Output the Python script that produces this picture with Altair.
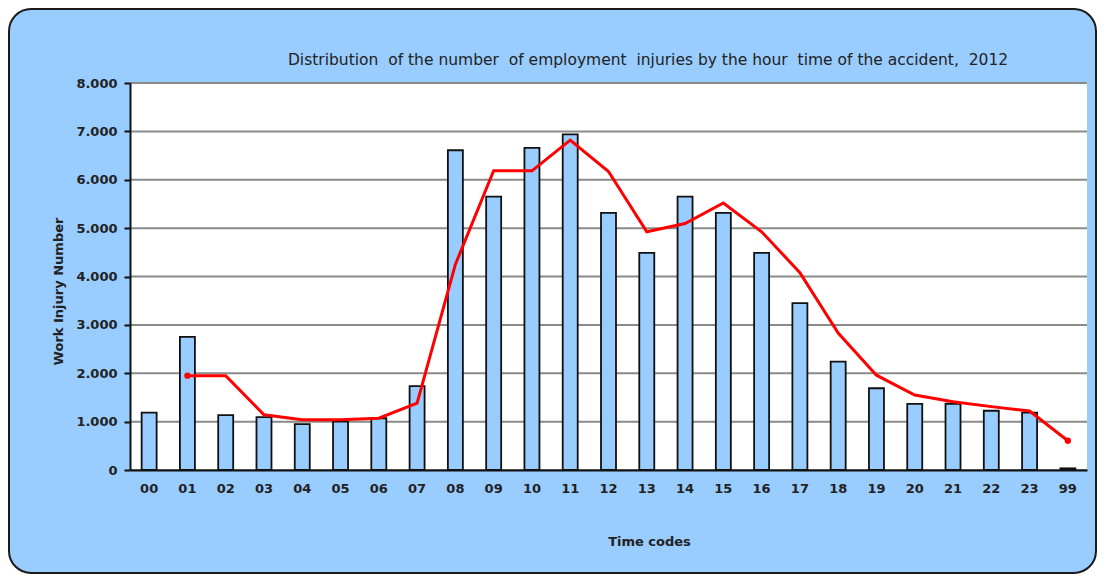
import altair as alt
import pandas as pd

codes = ["00", "01", "02", "03", "04", "05", "06", "07", "08", "09", "10", "11",
         "12", "13", "14", "15", "16", "17", "18", "19", "20", "21", "22", "23", "99"]
injuries = [1185, 2750, 1135, 1095, 950, 1000, 1070, 1735, 6610, 5650, 6660, 6940,
            5315, 4490, 5650, 5315, 4490, 3450, 2240, 1690, 1365, 1370, 1225, 1185, 35]
trend = [None, 1950, 1950, 1140, 1040, 1040, 1070, 1380, 4250, 6185, 6185, 6820,
         6170, 4925, 5095, 5520, 4925, 4080, 2830, 1960, 1550, 1410, 1310, 1220, 605]
y_ticks = [0, 1000, 2000, 3000, 4000, 5000, 6000, 7000, 8000]
marker_codes = ["01", "99"]
title_text = ("Distribution\u00a0 of the number\u00a0 of employment\u00a0 injuries by the "
              "hour\u00a0 time of the accident,\u00a0 2012")

W, H = 957, 387
FONT = "DejaVu Sans"

df = pd.DataFrame({"code": codes, "injuries": injuries, "trend": trend})
ticks_df = pd.DataFrame({"value": y_ticks})
one = pd.DataFrame({"a": [0]})

y_scale = alt.Scale(domain=[0, 8000], nice=False, zero=True)
y_axis = alt.Axis(
    values=y_ticks,
    labelExpr="replace(format(datum.value, ','), ',', '.')",
    grid=False, domain=True, domainColor="#111111", domainWidth=2,
    ticks=True, tickColor="#111111", tickSize=6, tickWidth=2,
    labelPadding=7, labelFont=FONT, labelFontSize=13, labelFontWeight="bold",
    labelColor="#222222",
    title="Work Injury Number", titleFont=FONT, titleFontSize=13,
    titleFontWeight="bold", titleColor="#222222",
    titleX=-72, titleY=208, titleAngle=-90, titleAlign="center",
    titleBaseline="middle", zindex=1,
)
x_axis = alt.Axis(
    domain=True, domainColor="#111111", domainWidth=2, ticks=False,
    labelPadding=12, labelFont=FONT, labelFontSize=13, labelFontWeight="bold",
    labelColor="#222222", labelAngle=0,
    title="Time codes", titleFont=FONT, titleFontSize=13, titleFontWeight="bold",
    titleColor="#222222", titleX=519, titleY=71, titleAlign="center",
    titleBaseline="middle", zindex=1,
)

frame = alt.Chart(one).mark_rect(
    fill="#99CCFF", stroke="#1a1a1a", strokeWidth=2, cornerRadius=22
).encode(
    x=alt.value(-121), x2=alt.value(W + 9), y=alt.value(-74), y2=alt.value(H + 103)
)
title = alt.Chart(one).mark_text(
    font=FONT, fontSize=15.5, fontWeight="normal", color="#222222",
    align="center", baseline="middle"
).encode(
    x=alt.value(518), y=alt.value(-23), text=alt.value(title_text)
)
plot_bg = alt.Chart(one).mark_rect(fill="white").encode(
    x=alt.value(0), x2=alt.value(W), y=alt.value(0), y2=alt.value(H)
)
grid = alt.Chart(ticks_df).mark_rule(color="#8a8a8a", strokeWidth=2).encode(
    y=alt.Y("value:Q", scale=y_scale, axis=y_axis)
)
bars = alt.Chart(df).mark_bar(
    size=15, fill="#99CCFF", stroke="#111111", strokeWidth=1.8
).encode(
    x=alt.X("code:N", sort=codes, axis=x_axis),
    y=alt.Y("injuries:Q", scale=y_scale, axis=y_axis),
)
line = alt.Chart(df).mark_line(color="#FF0000", strokeWidth=3).encode(
    x=alt.X("code:N", sort=codes, axis=x_axis),
    y=alt.Y("trend:Q", scale=y_scale, axis=y_axis),
)
points = alt.Chart(df).mark_point(
    filled=True, color="#FF0000", size=40, opacity=1
).encode(
    x=alt.X("code:N", sort=codes, axis=x_axis),
    y=alt.Y("trend:Q", scale=y_scale, axis=y_axis),
).transform_filter(alt.FieldOneOfPredicate(field="code", oneOf=marker_codes))

chart = alt.layer(frame, title, plot_bg, grid, bars, line, points).properties(
    width=W, height=H,
    autosize=alt.AutoSizeParams(type="none"),
    padding={"left": 122, "top": 75, "right": 10, "bottom": 104},
).configure(background="white").configure_view(stroke=None)

chart.save("out.html", embed_options={"renderer": "svg", "actions": False})
